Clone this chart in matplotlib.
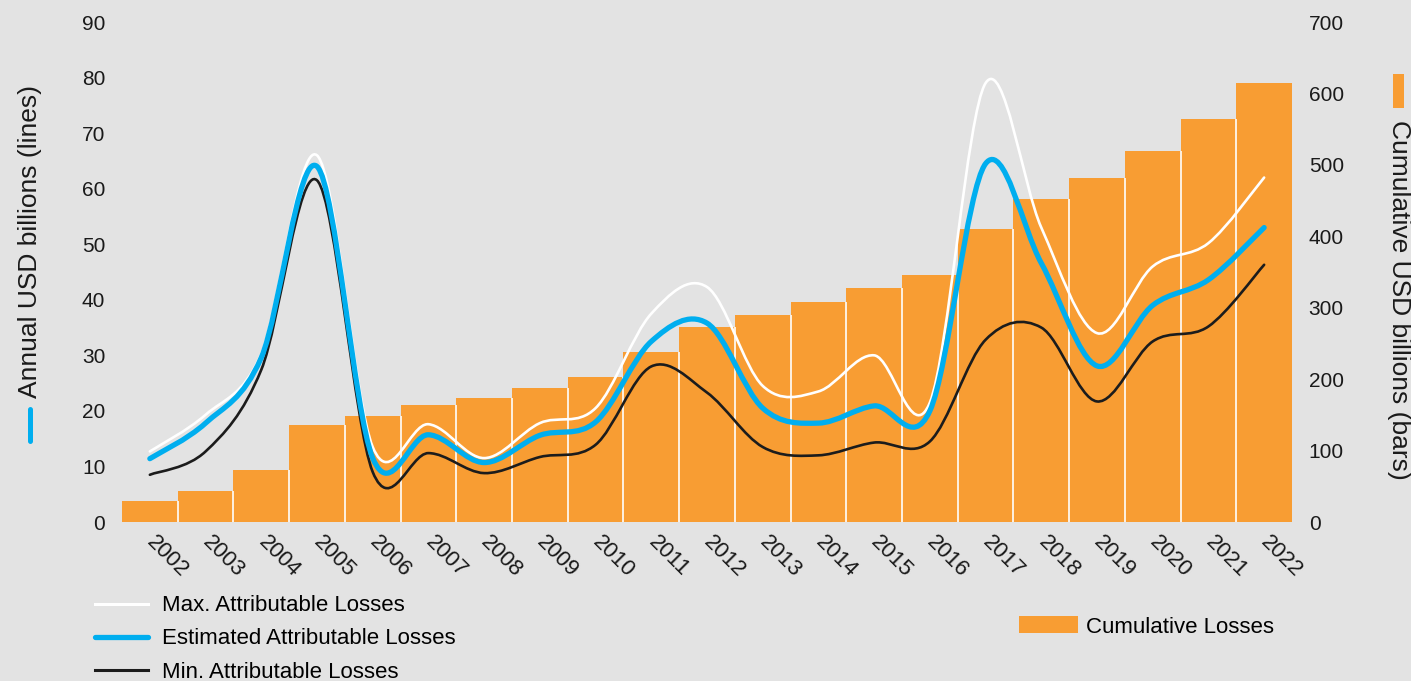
import numpy as np
import matplotlib.pyplot as plt
from matplotlib.path import Path
from matplotlib.patches import PathPatch, Patch, Rectangle
from matplotlib.lines import Line2D

plt.rcParams['font.family'] = ['Liberation Sans', 'DejaVu Sans']

# data (USD billions)
years = [str(y) for y in range(2002, 2023)]
cumulative = [29, 43, 73, 136, 148, 164, 174, 188, 203, 238, 273,
              290, 308, 328, 346, 410, 452, 482, 520, 564, 615]
max_losses = [12.7, 19.3, 30.3, 66.0, 13.5, 17.6, 11.5, 17.8, 20.5, 37.5, 42.3,
              24.5, 23.5, 30.0, 21.5, 79.0, 53.0, 34.0, 46.0, 50.2, 62.0]
est_losses = [11.4, 17.8, 29.6, 64.0, 11.5, 15.7, 10.7, 15.6, 18.0, 32.5, 35.8,
              20.5, 17.8, 20.9, 20.0, 64.5, 46.6, 28.1, 39.0, 43.6, 53.0]
min_losses = [8.5, 12.7, 27.4, 61.5, 9.0, 12.4, 8.8, 11.7, 13.9, 28.0, 23.3,
              13.5, 12.0, 14.3, 14.5, 32.8, 35.0, 21.7, 32.5, 35.2, 46.3]

# colours
bg = '#e3e3e3'
orange = '#f89d33'
blue = '#00aeef'
dark = '#1c1c1c'


def smooth_path(xs, ys):
    # catmull-rom -> cubic bezier, like a spreadsheet "smoothed line"
    pts = np.column_stack([xs, ys]).astype(float)
    ext = np.vstack([pts[0], pts, pts[-1]])
    verts = [pts[0]]
    codes = [Path.MOVETO]
    for i in range(len(pts) - 1):
        p0, p1, p2, p3 = ext[i], ext[i + 1], ext[i + 2], ext[i + 3]
        verts += [p1 + (p2 - p0) / 6, p2 - (p3 - p1) / 6, p2]
        codes += [Path.CURVE4] * 3
    return Path(verts, codes)


fig = plt.figure(figsize=(14.11, 6.81), dpi=100, facecolor=bg)
ax = fig.add_axes([122 / 1411, 1 - 522 / 681, 1170 / 1411, 500 / 681])
ax2 = ax.twinx()
ax.set_zorder(2)
ax2.set_zorder(1)
ax.patch.set_visible(False)
ax2.patch.set_visible(False)

x = np.arange(len(years))

# bars (right axis)
ax2.bar(x, cumulative, width=1.0, color=orange, linewidth=0)
sep = np.minimum(cumulative[:-1], cumulative[1:])
ax2.vlines(x[:-1] + 0.5, 0, sep, color='white', lw=1.2)
ax2.set_ylim(0, 700)
ax2.set_yticks(np.arange(0, 701, 100))

# lines (left axis)
for vals, col, lw in [(max_losses, 'white', 1.9), (min_losses, dark, 1.9),
                      (est_losses, blue, 3.8)]:
    ax.add_patch(PathPatch(smooth_path(x, vals), fill=False, edgecolor=col,
                           lw=lw, capstyle='round', joinstyle='round'))
ax.set_ylim(0, 90)
ax.set_yticks(np.arange(0, 91, 10))
ax.set_xlim(-0.5, len(years) - 0.5)
ax.set_xticks(x)
ax.set_xticklabels(years, rotation=-45, ha='left', va='center',
                   rotation_mode='anchor', fontsize=16)

for a in (ax, ax2):
    for s in a.spines.values():
        s.set_visible(False)
ax.tick_params(axis='x', length=0, pad=12, colors='#1a1a1a')
ax.tick_params(axis='y', length=0, pad=12, labelsize=15, colors='#1a1a1a')
ax2.tick_params(axis='y', length=0, pad=12, labelsize=15, colors='#1a1a1a')

# axis titles with their little keys
fig.text(30 / 1411, 1 - 242 / 681, 'Annual USD billions (lines)', rotation=90,
         ha='center', va='center', fontsize=19, color='#1a1a1a')
fig.add_artist(Line2D([29.5 / 1411, 29.5 / 1411], [1 - 441 / 681, 1 - 409 / 681],
                      color=blue, lw=3.6, solid_capstyle='round'))
fig.text(1399 / 1411, 1 - 300 / 681, 'Cumulative USD billions (bars)', rotation=270,
         ha='center', va='center', fontsize=19, color='#1a1a1a')
fig.add_artist(Rectangle((1393 / 1411, 1 - 108 / 681), 11 / 1411, 34 / 681,
                         color=orange, lw=0))

# legends
line_handles = [Line2D([], [], color='white', lw=2.2),
                Line2D([], [], color=blue, lw=3.8, solid_capstyle='round'),
                Line2D([], [], color=dark, lw=2.2)]
fig.legend(line_handles, ['Max. Attributable Losses', 'Estimated Attributable Losses',
                          'Min. Attributable Losses'],
           loc='center left', bbox_to_anchor=(95 / 1411, 1 - 639 / 681),
           frameon=False, fontsize=16, handlelength=2.4, handletextpad=0.6,
           labelspacing=0.55, borderpad=0, borderaxespad=0)
fig.legend([Patch(color=orange, lw=0)], ['Cumulative Losses'],
           loc='center left', bbox_to_anchor=(1019 / 1411, 1 - 627 / 681),
           frameon=False, fontsize=16, handlelength=2.65, handleheight=0.8,
           handletextpad=0.35, borderpad=0, borderaxespad=0)

fig.savefig('out.png', dpi=100, facecolor=bg)
